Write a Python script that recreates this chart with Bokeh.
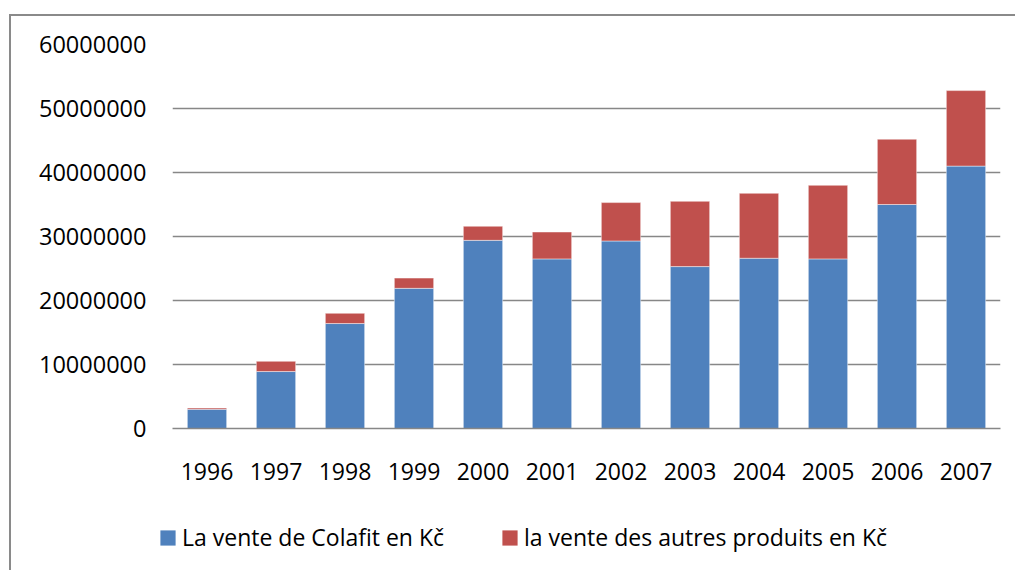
from bokeh.plotting import figure
from bokeh.layouts import column
from bokeh.models import FixedTicker, BasicTickFormatter
from bokeh.embed import file_html
from bokeh.resources import INLINE

years = ["1996", "1997", "1998", "1999", "2000", "2001", "2002", "2003", "2004", "2005", "2006", "2007"]
colafit = [3000000, 8900000, 16400000, 21900000, 29400000, 26500000, 29300000, 25300000, 26600000, 26500000, 35000000, 41000000]
autres = [200000, 1600000, 1600000, 1600000, 2200000, 4200000, 6000000, 10200000, 10150000, 11500000, 10200000, 11800000]
series = ["colafit", "autres"]
labels = ["La vente de Colafit en Kč", "la vente des autres produits en Kč"]
colors = ["#4F81BD", "#C0504D"]
y_ticks = [0, 10000000, 20000000, 30000000, 40000000, 50000000, 60000000]

data = dict(years=years, colafit=colafit, autres=autres)

FONT = "Open Sans"
BORDER = "2px solid #8a8a8a"

# main chart
p = figure(x_range=years, y_range=(0, 60000000), width=1006, height=484,
           output_backend="svg", toolbar_location=None,
           min_border_left=161, min_border_right=17, min_border_top=28, min_border_bottom=72)
p.margin = (14, 0, 0, 9)
p.styles = {"border-left": BORDER, "border-top": BORDER}
p.frame_align = False

p.vbar_stack(series, x="years", width=0.57, source=data, color=colors,
             line_color="white", line_alpha=0.45, line_width=1)

p.x_range.range_padding = 0
p.outline_line_color = None
p.background_fill_color = "white"
p.border_fill_color = "white"

p.xgrid.grid_line_color = None
p.ygrid.grid_line_color = "#878787"
p.ygrid.grid_line_width = 1.5
p.ygrid.ticker = FixedTicker(ticks=y_ticks)

p.yaxis.ticker = FixedTicker(ticks=y_ticks)
p.yaxis.formatter = BasicTickFormatter(use_scientific=False)
p.yaxis.axis_line_color = None
p.yaxis.major_tick_line_color = None
p.yaxis.minor_tick_line_color = None
p.yaxis.major_label_standoff = 20
p.yaxis.major_label_text_font = FONT
p.yaxis.major_label_text_font_size = "23.5px"
p.yaxis.major_label_text_color = "black"

p.xaxis.axis_line_color = "#878787"
p.xaxis.axis_line_width = 1.5
p.xaxis.major_tick_line_color = None
p.xaxis.minor_tick_line_color = None
p.xaxis.major_label_standoff = 28
p.xaxis.major_label_text_font = FONT
p.xaxis.major_label_text_font_size = "23px"
p.xaxis.major_label_text_color = "black"

# legend strip below the chart (same series, hidden renderers feed the legend)
lp = figure(x_range=years, y_range=(-2e8, -1e8), width=1006, height=72,
            output_backend="svg", toolbar_location=None,
            min_border_left=0, min_border_right=0, min_border_top=0, min_border_bottom=0)
lp.margin = (0, 0, 0, 9)
lp.styles = {"border-left": BORDER}
lp.frame_align = False
legend_renderers = lp.vbar_stack(series, x="years", width=0.57, source=data, color=colors,
                                 line_color=None, legend_label=labels)
for r in legend_renderers:
    r.visible = False
lp.axis.visible = False
lp.grid.grid_line_color = None
lp.outline_line_color = None
lp.border_fill_color = "white"
lp.background_fill_color = "white"

lg = lp.legend[0]
lg.location = (147, 17)
lg.orientation = "horizontal"
lg.click_policy = "none"
lg.border_line_color = None
lg.background_fill_alpha = 0
lg.padding = 0
lg.margin = 0
lg.spacing = 56
lg.glyph_width = 19
lg.glyph_height = 19
lg.label_standoff = 5
lg.label_text_font = FONT
lg.label_text_font_size = "23px"
lg.label_text_color = "black"

layout = column(p, lp, spacing=0)
open("out.html", "w").write(file_html(layout, INLINE))
